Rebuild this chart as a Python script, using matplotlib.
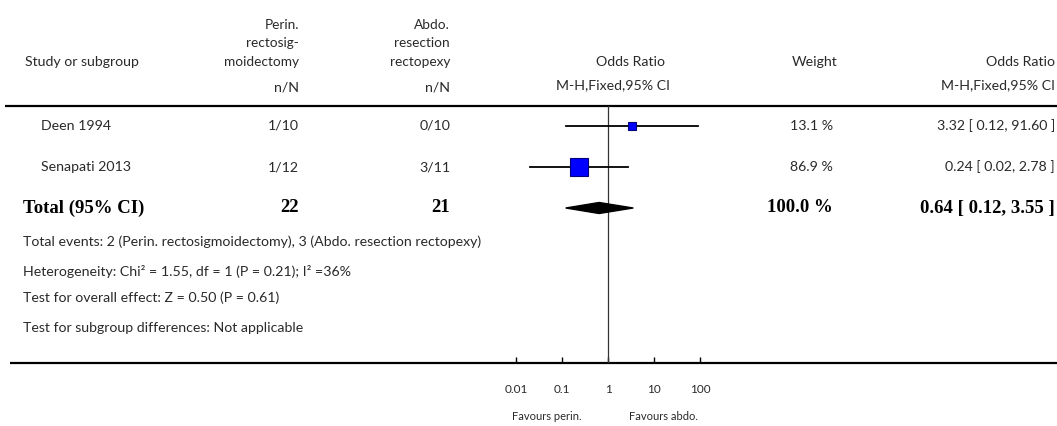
import matplotlib
matplotlib.use("Agg")
import matplotlib.pyplot as plt
import numpy as np

# study data
studies = ["Deen 1994", "Senapati 2013"]
perin_nN = ["1/10", "1/12"]
abdo_nN = ["0/10", "3/11"]
weights = [13.1, 86.9]
odds = [3.32, 0.24]
ci_low = [0.12, 0.02]
ci_high = [91.60, 2.78]

total_perin = 22
total_abdo = 21
total_weight = 100.0
total_or = 0.64
total_low = 0.12
total_high = 3.55

ticks = [0.01, 0.1, 1, 10, 100]
tick_labels = ["0.01", "0.1", "1", "10", "100"]

footnotes = [
    "Total events: 2 (Perin. rectosigmoidectomy), 3 (Abdo. resection rectopexy)",
    "Heterogeneity: Chi² = 1.55, df = 1 (P = 0.21); I² =36%",
    "Test for overall effect: Z = 0.50 (P = 0.61)",
    "Test for subgroup differences: Not applicable",
]

W, H = 1057, 426
TXT = "#2a2a2a"
SANS = "Lato"
SERIF = "Liberation Serif"
FS = 10.2

fig = plt.figure(figsize=(W / 100, H / 100), dpi=100)
fig.patch.set_facecolor("white")

# overlay axes in pixel coordinates for the table text
bg = fig.add_axes([0, 0, 1, 1])
bg.set_xlim(0, W)
bg.set_ylim(H, 0)
bg.axis("off")

def t(x, y, s, ha="left", bold=False, size=FS):
    if bold:
        bg.text(x, y, s, ha=ha, va="center", fontsize=13.5, family=SERIF,
                weight="bold", color="black")
    else:
        bg.text(x, y, s, ha=ha, va="center", fontsize=size, family=SANS, color=TXT)

c1, c2 = 299, 450  # right edges of the n/N columns

# header
t(25, 62, "Study or subgroup")
for yy, s in zip([25, 43, 62], ["Perin.", "rectosig-", "moidectomy"]):
    t(c1, yy, s, ha="right", size=9.8)
for yy, s in zip([25, 43, 62], ["Abdo.", "resection", "rectopexy"]):
    t(c2, yy, s, ha="right", size=9.8)
t(c1, 87, "n/N", ha="right")
t(c2, 87, "n/N", ha="right")
t(631, 62, "Odds Ratio", ha="center")
t(613, 85, "M-H,Fixed,95% CI", ha="center")
t(838, 62, "Weight", ha="right")
t(1055, 62, "Odds Ratio", ha="right")
t(1055, 85, "M-H,Fixed,95% CI", ha="right")

bg.plot([5, W], [106, 106], color="black", lw=1.6, solid_capstyle="butt")
bg.plot([10, W], [363, 363], color="black", lw=1.6, solid_capstyle="butt")

row_y = [126, 167]
for i, name in enumerate(studies):
    y = row_y[i]
    t(41, y, name)
    t(c1, y, perin_nN[i], ha="right")
    t(c2, y, abdo_nN[i], ha="right")
    t(833, y, f"{weights[i]:.1f} %", ha="right")
    t(1055, y, f"{odds[i]:.2f} [ {ci_low[i]:.2f}, {ci_high[i]:.2f} ]", ha="right")

ty = 208
t(23, ty, "Total (95% CI)", bold=True)
t(c1, ty, str(total_perin), ha="right", bold=True)
t(c2, ty, str(total_abdo), ha="right", bold=True)
t(833, ty, f"{total_weight:.1f} %", ha="right", bold=True)
t(1055, ty, f"{total_or:.2f} [ {total_low:.2f}, {total_high:.2f} ]", ha="right", bold=True)

for yy, s in zip([242, 271, 298, 328], footnotes):
    t(23, yy, s)

t(582, 417, "Favours perin.", ha="right", size=8)
t(629, 417, "Favours abdo.", ha="left", size=8)

# forest plot axes: 1 at x=608 px, 46 px per decade
left_px, right_px = 470, 746
top_px, bot_px = 106, 363
ax = fig.add_axes([left_px / W, (H - bot_px) / H, (right_px - left_px) / W,
                   (bot_px - top_px) / H])
ax.patch.set_alpha(0)
ax.set_xscale("log")
ax.set_xlim(1e-3, 1e3)
ax.set_ylim(bot_px, top_px)
for sp in ax.spines.values():
    sp.set_visible(False)
ax.set_yticks([])
ax.set_xticks(ticks)
ax.set_xticklabels(tick_labels, family=SANS, fontsize=8.5, color=TXT)
ax.minorticks_off()
ax.tick_params(axis="x", direction="in", length=4, width=1, pad=15, color="black")
ax.axvline(1, color="#333333", lw=0.9)

for i in range(len(studies)):
    y = row_y[i]
    ax.plot([ci_low[i], ci_high[i]], [y, y], color="black", lw=1.3, zorder=2)
    ms = 1.4 * np.sqrt(weights[i])
    ax.plot(odds[i], y, marker="s", ms=ms, mfc="#0000ff", mec="#00007a", mew=0.8,
            zorder=3)

dh = 5.5
ax.fill([total_low, total_or, total_high, total_or],
        [ty, ty - dh, ty, ty + dh], color="black", zorder=3)

fig.savefig("out.png", dpi=100, facecolor="white")
